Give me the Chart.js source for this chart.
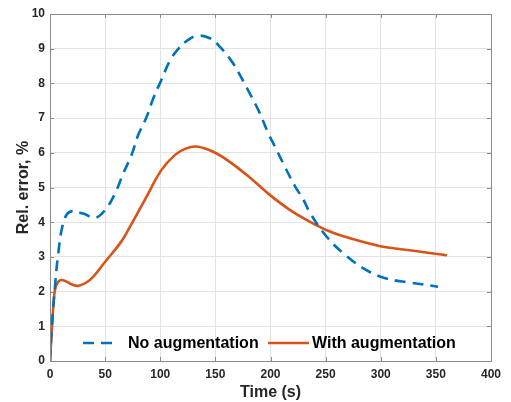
<!DOCTYPE html>
<html>
<head>
<meta charset="utf-8">
<script src="https://cdn.jsdelivr.net/npm/chart.js@4"></script>
<style>
	html, body { margin: 0; padding: 0; background: #fff; }
	#wrap { width: 511px; height: 402px; }
</style>
</head>
<body>
<div id="wrap"><canvas id="errChart" width="511" height="402"></canvas></div>
<script>
const TIME_NO_AUG = [0, 1.5, 4.5, 7.5, 12, 18, 30, 41, 50, 59, 66.5, 74, 80, 87.7, 93.7, 101, 109, 116, 123, 133, 145, 154, 166, 178, 189, 198, 204, 213, 222, 230, 236, 251, 268, 287, 305, 327, 352];
const ERR_NO_AUG = [0, 0.9, 2.14, 3.1, 3.97, 4.3, 4.25, 4.13, 4.35, 4.83, 5.41, 5.94, 6.51, 7.04, 7.57, 8.1, 8.67, 8.98, 9.2, 9.37, 9.3, 9.06, 8.58, 7.9, 7.23, 6.56, 6.18, 5.6, 5.05, 4.64, 4.26, 3.58, 3.05, 2.62, 2.38, 2.26, 2.14];
const TIME_AUG = [0, 2.4, 4.5, 7.6, 12, 21, 26, 36, 50, 63.5, 71, 86, 101, 113.4, 123, 133, 148, 163, 181.5, 199.6, 217.8, 236, 254, 272, 299.5, 311.5, 336, 360];
const ERR_AUG = [0, 1.28, 2.05, 2.29, 2.33, 2.19, 2.17, 2.33, 2.86, 3.39, 3.78, 4.64, 5.5, 5.94, 6.12, 6.18, 6.03, 5.74, 5.28, 4.78, 4.35, 4.01, 3.73, 3.54, 3.31, 3.25, 3.15, 3.05];
const SERIES_LABELS = ['No augmentation', 'With augmentation'];
const X_TICKS = [0, 50, 100, 150, 200, 250, 300, 350, 400];
const Y_TICKS = [0, 1, 2, 3, 4, 5, 6, 7, 8, 9, 10];

const BLUE = '#0072BD';
const ORANGE = '#D95319';
const AXIS_COLOR = '#262626';
const BOX_COLOR = '#8a8a8a';
const FONT = 'Liberation Sans, Arial, sans-serif';

function toPoints(xs, ys) {
	return xs.map((x, i) => ({ x: x, y: ys[i] }));
}

// MATLAB-like box with inward ticks on all sides
const boxPlugin = {
	id: 'box',
	afterDraw(chart) {
		const { ctx, chartArea: a, scales } = chart;
		ctx.save();
		ctx.strokeStyle = BOX_COLOR;
		ctx.lineWidth = 1;
		ctx.strokeRect(a.left + 0.5, a.top + 0.5, a.right - a.left, a.bottom - a.top);
		ctx.beginPath();
		X_TICKS.forEach(v => {
			const px = Math.round(scales.x.getPixelForValue(v)) + 0.5;
			ctx.moveTo(px, a.top); ctx.lineTo(px, a.top + 4);
			ctx.moveTo(px, a.bottom); ctx.lineTo(px, a.bottom - 4);
		});
		Y_TICKS.forEach(v => {
			const py = Math.round(scales.y.getPixelForValue(v)) + 0.5;
			ctx.moveTo(a.left, py); ctx.lineTo(a.left + 4, py);
			ctx.moveTo(a.right, py); ctx.lineTo(a.right - 4, py);
		});
		ctx.stroke();
		ctx.restore();
	},
};

// legend drawn inside the plot, near the bottom
const insideLegend = {
	id: 'insideLegend',
	afterDraw(chart) {
		const { ctx } = chart;
		const items = [
			{ x0: 83, x1: 116, tx: 128 },
			{ x0: 268, x1: 309, tx: 312 },
		];
		const y = 343;
		ctx.save();
		ctx.font = 'bold 16px ' + FONT;
		ctx.textBaseline = 'middle';
		ctx.fillStyle = '#000';
		chart.data.datasets.forEach((ds, i) => {
			const it = items[i];
			ctx.strokeStyle = ds.borderColor;
			ctx.lineWidth = ds.borderWidth;
			ctx.setLineDash(ds.borderDash || []);
			ctx.beginPath();
			ctx.moveTo(it.x0, y);
			ctx.lineTo(it.x1, y);
			ctx.stroke();
			ctx.setLineDash([]);
			ctx.fillText(ds.label, it.tx, y + 1);
		});
		ctx.restore();
	},
};

const ctx = document.getElementById('errChart').getContext('2d');
const chart = new Chart(ctx, {
	type: 'line',
	data: {
		datasets: [
			{
				label: SERIES_LABELS[0],
				data: toPoints(TIME_NO_AUG, ERR_NO_AUG),
				borderColor: BLUE,
				backgroundColor: BLUE,
				borderWidth: 2.6,
				borderDash: [11, 7],
				pointRadius: 0,
				tension: 0.4,
				fill: false,
			},
			{
				label: SERIES_LABELS[1],
				data: toPoints(TIME_AUG, ERR_AUG),
				borderColor: ORANGE,
				backgroundColor: ORANGE,
				borderWidth: 2.6,
				pointRadius: 0,
				tension: 0.4,
				fill: false,
			},
		],
	},
	options: {
		responsive: false,
		animation: false,
		layout: { padding: { top: 14, right: 20, bottom: 0, left: 0 } },
		scales: {
			x: {
				type: 'linear',
				min: 0,
				max: 400,
				afterBuildTicks(scale) {
					scale.ticks = X_TICKS.map(v => ({ value: v }));
				},
				afterFit(scale) { scale.height = 41; },
				grid: { color: '#e3e3e3', drawTicks: false },
				border: { display: false },
				ticks: {
					padding: 6,
					color: AXIS_COLOR,
					font: { family: FONT, size: 12, weight: 'bold' },
				},
				title: {
					display: true,
					text: 'Time (s)',
					color: AXIS_COLOR,
					padding: { top: 0, bottom: 0 },
					font: { family: FONT, size: 16, weight: 'bold' },
				},
			},
			y: {
				min: 0,
				max: 10,
				afterBuildTicks(scale) {
					scale.ticks = Y_TICKS.map(v => ({ value: v }));
				},
				afterFit(scale) { scale.width = 50; },
				grid: { color: '#e3e3e3', drawTicks: false },
				border: { display: false },
				ticks: {
					padding: 5,
					color: AXIS_COLOR,
					font: { family: FONT, size: 12, weight: 'bold' },
				},
				title: {
					display: true,
					text: 'Rel. error, %',
					color: AXIS_COLOR,
					padding: { top: 14, bottom: 0 },
					font: { family: FONT, size: 16, weight: 'bold' },
				},
			},
		},
		plugins: {
			legend: { display: false },
			tooltip: { enabled: false },
		},
	},
	plugins: [boxPlugin, insideLegend],
});
</script>
</body>
</html>
